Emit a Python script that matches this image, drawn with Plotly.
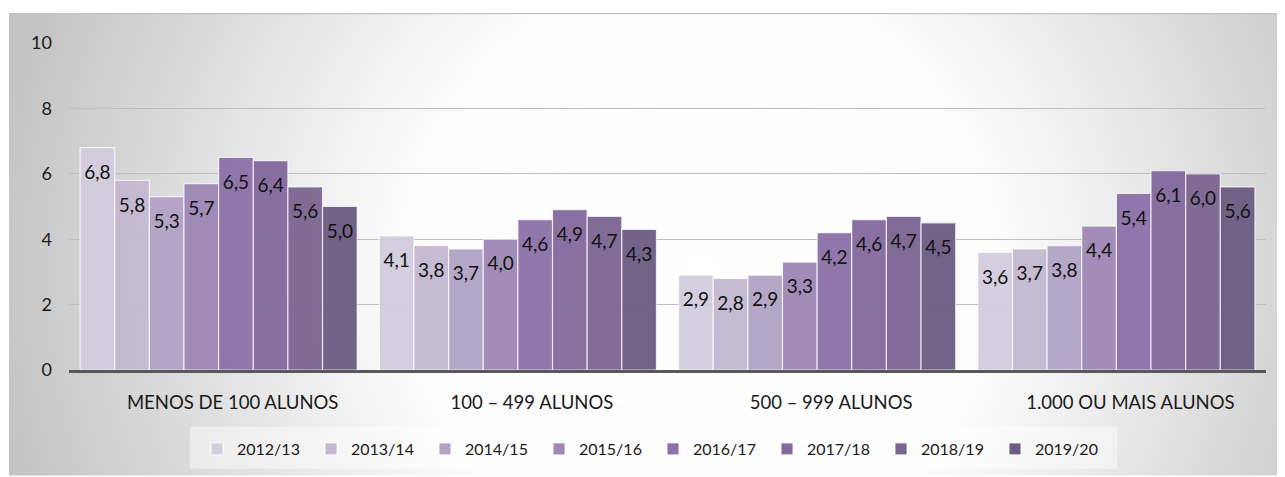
import base64
import plotly.graph_objects as go

categories = ["MENOS DE 100 ALUNOS", "100 – 499 ALUNOS", "500 – 999 ALUNOS", "1.000 OU MAIS ALUNOS"]
years = ["2012/13", "2013/14", "2014/15", "2015/16", "2016/17", "2017/18", "2018/19", "2019/20"]
values = {
    "2012/13": [6.8, 4.1, 2.9, 3.6],
    "2013/14": [5.8, 3.8, 2.8, 3.7],
    "2014/15": [5.3, 3.7, 2.9, 3.8],
    "2015/16": [5.7, 4.0, 3.3, 4.4],
    "2016/17": [6.5, 4.6, 4.2, 5.4],
    "2017/18": [6.4, 4.9, 4.6, 6.1],
    "2018/19": [5.6, 4.7, 4.7, 6.0],
    "2019/20": [5.0, 4.3, 4.5, 5.6],
}
colors = ["#D2CDDD", "#C3B9D1", "#B2A3C5", "#9D88B5", "#8B71A8", "#84699E", "#7A6591", "#6C5B82"]
y_ticks = [0, 2, 4, 6, 8, 10]

FONT = "Lato"
LABEL_DROP = 0.81  # data-label centre sits this far (in axis units) below bar top

fig = go.Figure()
for yr, col in zip(years, colors):
    fig.add_trace(go.Bar(
        name=yr, x=categories, y=values[yr], offsetgroup=yr,
        marker=dict(color=col, opacity=0.95, line=dict(color="rgba(255,255,255,0.75)", width=1.2)),
    ))
for yr in years:
    fig.add_trace(go.Scatter(
        x=categories, y=[v - LABEL_DROP for v in values[yr]], offsetgroup=yr,
        mode="text", text=[f"{v:.1f}".replace(".", ",") for v in values[yr]],
        textposition="middle center", textfont=dict(family=FONT, size=19, color="#111111"),
        showlegend=False, hoverinfo="skip",
    ))

# figure sits 8px inside the page (body margin)
OX, OY = 8, 8
FW, FH = 1285 - OX, 477 - OY

# background radial gradient (SVG)
W, H = 1276, 464
svg = (f'<svg xmlns="http://www.w3.org/2000/svg" width="{W}" height="{H}" viewBox="0 0 {W} {H}" preserveAspectRatio="none">'
       '<defs><radialGradient id="g" gradientUnits="userSpaceOnUse" cx="691" cy="257" r="720">'
       '<stop offset="0" stop-color="#ffffff"/><stop offset="0.42" stop-color="#fcfcfc"/>'
       '<stop offset="0.62" stop-color="#e9e9e9"/><stop offset="0.8" stop-color="#d6d6d6"/>'
       '<stop offset="1" stop-color="#c3c3c3"/></radialGradient></defs>'
       f'<rect width="{W}" height="{H}" fill="url(#g)"/>'
       f'<line x1="0" y1="0.5" x2="{W}" y2="0.5" stroke="#c2c2c2" stroke-width="1.5"/></svg>')
src = "data:image/svg+xml;base64," + base64.b64encode(svg.encode()).decode()

L, R, T, B = 69 - OX, 1266 - OX, 43 - OY, 371 - OY
pw, ph = R - L, B - T

def px_x(p):
    return (p - OX - L) / pw

def px_y(p):
    return (B - (p - OY)) / ph

fig.add_layout_image(dict(
    source=src, xref="paper", yref="paper",
    x=px_x(9), y=px_y(13), sizex=W / pw, sizey=H / ph,
    xanchor="left", yanchor="top", sizing="stretch", layer="below",
))

# legend backdrop box
fig.add_shape(type="rect", xref="paper", yref="paper", layer="below",
              x0=px_x(190), x1=px_x(1117), y0=px_y(428), y1=px_y(470),
              fillcolor="rgba(255,255,255,0.45)", line=dict(width=0))

fig.update_layout(
    width=FW, height=FH,
    margin=dict(l=L, r=FW - R, t=T, b=FH - B),
    paper_bgcolor="white", plot_bgcolor="rgba(0,0,0,0)",
    barmode="group", bargap=0.074, bargroupgap=0,
    scattermode="group", scattergap=0.074,
    font=dict(family=FONT, color="#1a1a1a"),
    showlegend=True,
    legend=dict(
        orientation="h", x=px_x(653), xanchor="center", y=px_y(449), yanchor="middle",
        bgcolor="rgba(0,0,0,0)", font=dict(family=FONT, size=16, color="#1a1a1a"),
        itemwidth=30, traceorder="normal", entrywidth=69, entrywidthmode="pixels",
    ),
    xaxis=dict(
        showline=True, linecolor="#595959", linewidth=3,
        tickfont=dict(family=FONT, size=18.5, color="#1a1a1a"),
        ticks="", ticklabelstandoff=14, ticklabelshift=14, showgrid=False,
    ),
    yaxis=dict(
        range=[0, 10], tickvals=y_ticks, showgrid=True, gridcolor="#BEBEBE", gridwidth=1,
        zeroline=False, showline=False, ticks="",
        tickfont=dict(family=FONT, size=18, color="#1a1a1a"), ticklabelstandoff=16,
    ),
)

fig.write_html("out.html")
